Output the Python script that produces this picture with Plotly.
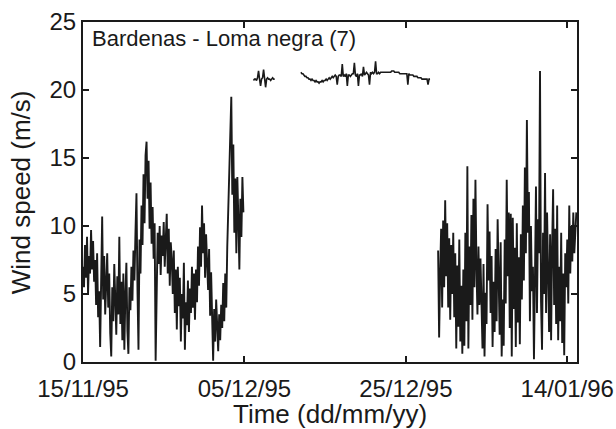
import pandas as pd
import plotly.graph_objects as go

# ---- data (3-hourly wind speed, m/s) ----
seg1_start = "1995-11-15 00:00"
seg1 = [
    7.0, 5.5, 8.6, 6.2, 9.2, 5.0, 7.8, 6.5,
    9.7, 6.8, 8.9, 5.9, 7.5, 4.2, 8.0, 3.3,
    5.2, 1.1, 6.0, 10.7, 4.6, 7.8, 3.5, 6.9,
    8.0, 4.0, 6.5, 2.1, 0.4, 5.5, 3.0, 7.2,
    4.8, 2.0, 6.3, 3.5, 9.2, 2.8, 5.9, 1.6,
    6.5, 0.9, 4.9, 7.3, 2.3, 0.6, 5.5, 3.8,
    7.0, 4.5, 8.2, 6.0, 9.5, 12.4, 5.3, 0.9,
    9.0, 6.5, 11.5, 8.6, 13.8, 10.2, 15.2, 16.2,
    12.0, 14.8, 9.8, 13.2, 8.7, 11.4, 7.6, 10.2,
    0.1, 5.8, 9.5, 7.2, 10.0, 6.4, 9.3, 7.8,
    10.3, 7.0, 9.1, 10.9, 6.5, 9.8, 5.6, 8.8,
    7.5, 5.0, 8.2, 3.6, 6.8, 2.4, 7.0, 4.1,
    6.2, 1.5, 5.0, 3.2, 7.3, 0.9, 4.4, 2.7,
    6.0, 2.2, 5.4, 3.6, 7.0, 4.0, 6.5, 3.1,
    6.8, 4.4, 8.5, 5.6, 9.9, 7.0, 11.5, 8.0,
    10.2, 6.2, 9.4, 7.5, 5.3, 8.3, 3.4, 6.6,
    2.8, 0.1, 3.9, 1.5, 4.6, 2.0, 0.8, 3.5,
    1.6, 4.2, 2.5, 5.8, 3.0, 6.5, 4.0, 8.5,
    11.0, 14.5, 17.2, 19.5, 12.3, 16.0, 9.5, 13.5,
    8.0, 13.6, 10.5, 6.8, 12.0, 9.2, 13.6, 11.0,
]

seg2_start = "1995-12-06 03:00"
seg2 = [20.7, 20.8, 20.8, 20.7, 20.9, 21.4, 20.8, 20.3, 20.8, 20.9, 21.5,
        20.7, 20.2, 20.8, 20.9, 20.8, 20.8, 20.7, 20.8, 20.9, 20.8, 20.8]

seg3_start = "1995-12-12 00:00"
seg3 = [
    21.3, 21.2, 21.2, 21.1, 21.0, 21.0, 20.9, 20.9,
    20.8, 20.8, 20.7, 20.8, 20.7, 20.7, 20.6, 20.7,
    20.6, 20.6, 20.5, 20.6, 20.6, 20.7, 20.6, 20.7,
    20.7, 20.8, 20.7, 20.8, 20.9, 20.8, 20.9, 21.0,
    20.9, 21.0, 21.1, 21.0, 20.4, 21.0, 21.1, 21.1,
    21.0, 21.9, 21.0, 21.1, 21.0, 21.2, 20.3, 21.1,
    21.1, 21.0, 21.1, 21.2, 21.2, 22.0, 21.1, 21.0,
    21.2, 20.3, 21.1, 21.1, 21.2, 21.0, 21.7, 21.1,
    21.2, 21.3, 21.2, 21.1, 20.4, 21.3, 21.2, 21.3,
    21.2, 21.3, 22.1, 21.2, 21.2, 21.3, 21.2, 21.3,
    21.3, 21.3, 21.3, 21.3, 21.3, 21.3, 21.3, 21.3,
    21.3, 21.3, 21.4, 21.4, 21.4, 21.3, 21.3, 21.3,
    21.3, 21.3, 21.2, 21.2, 21.2, 21.2, 21.2, 21.2,
    21.2, 21.2, 20.4, 21.2, 21.1, 21.1, 21.1, 21.1,
    21.0, 21.0, 21.0, 21.0, 20.9, 20.9, 20.9, 20.9,
    20.8, 20.8, 20.8, 20.8, 20.8, 20.8, 20.4, 20.8,
    20.8,
]

seg4_start = "1995-12-29 00:00"
seg4 = [
    8.2, 1.8, 6.5, 9.8, 4.0, 10.4, 5.5, 11.9,
    6.3, 10.2, 4.0, 9.1, 3.1, 8.6, 5.0, 9.5,
    3.3, 8.0, 1.0, 7.1, 2.6, 9.0, 1.5, 5.6,
    0.6, 6.8, 1.2, 9.5, 3.0, 14.4, 1.0, 8.5,
    4.2, 10.8, 3.1, 12.0, 5.5, 13.4, 7.0, 3.5,
    8.5, 4.2, 7.6, 3.6, 1.0, 7.2, 0.4, 5.1,
    2.8, 11.6, 6.0, 9.6, 3.6, 7.8, 1.1, 5.9,
    2.2, 8.3, 3.0, 10.5, 5.2, 2.0, 8.8, 0.4,
    4.6, 1.2, 9.0, 4.3, 13.4, 6.3, 11.0, 2.5,
    10.9, 0.4, 10.6, 3.9, 8.4, 1.1, 10.2, 2.9,
    7.7, 1.3, 9.4, 4.6, 11.5, 6.0, 14.3, 8.0,
    17.8, 9.5, 12.5, 3.0, 10.0, 5.2, 7.0, 0.2,
    6.2, 12.9, 3.6, 10.5, 8.0, 21.4, 4.5, 0.9,
    9.5, 5.0, 13.9, 3.6, 11.0, 6.5, 2.2, 9.4,
    1.6, 8.5, 12.7, 4.2, 9.8, 2.8, 11.5, 1.6,
    7.0, 3.0, 9.5, 1.4, 6.5, 0.5, 8.0, 5.5,
    9.0, 4.3, 11.5, 6.5, 10.0, 7.4, 11.0, 8.0,
    10.2, 11.0,
]

segments = [(seg1_start, seg1, 1.9), (seg2_start, seg2, 1.6),
            (seg3_start, seg3, 1.6), (seg4_start, seg4, 1.9)]

x_ticks = ["1995-11-15", "1995-12-05", "1995-12-25", "1996-01-14"]
x_tick_labels = ["15/11/95", "05/12/95", "25/12/95", "14/01/96"]
y_ticks = [0, 5, 10, 15, 20, 25]
x_range = ["1995-11-15 00:00", "1996-01-15 05:00"]

fig = go.Figure()
for start, vals, w in segments:
    xs = pd.date_range(start=start, periods=len(vals), freq="3h")
    fig.add_trace(go.Scatter(x=xs, y=vals, mode="lines",
                             line=dict(color="#1a1a1a", width=w),
                             showlegend=False, hoverinfo="skip"))

font_family = "Liberation Sans, Arial, sans-serif"
axis_common = dict(
    ticks="inside", ticklen=6, tickwidth=1.5, tickcolor="#1a1a1a",
    showline=True, linecolor="#1a1a1a", linewidth=2, mirror="ticks",
    showgrid=False, zeroline=False, automargin=False,
    tickfont=dict(size=24),
)
fig.update_layout(
    width=616, height=429,
    margin=dict(l=83, r=39, t=22, b=67),
    paper_bgcolor="white", plot_bgcolor="white",
    font=dict(family=font_family, color="#1a1a1a", size=24),
    xaxis=dict(range=x_range, tickvals=x_ticks, ticktext=x_tick_labels,
               ticklabelstandoff=4, **axis_common),
    yaxis=dict(range=[0, 25], tickvals=y_ticks, **axis_common),
    annotations=[
        dict(text="Bardenas - Loma negra (7)", xref="paper", yref="paper",
             x=0.015, y=0.995, xanchor="left", yanchor="top", showarrow=False,
             font=dict(size=22, family=font_family, color="#1a1a1a")),
        dict(text="Time (dd/mm/yy)", xref="paper", yref="paper",
             x=0.5, y=-0.153, xanchor="center", yanchor="middle", showarrow=False,
             font=dict(size=26, family=font_family, color="#1a1a1a")),
        dict(text="Wind speed (m/s)", xref="paper", yref="paper",
             x=-0.125, y=0.5, xanchor="center", yanchor="middle", showarrow=False,
             textangle=-90,
             font=dict(size=26, family=font_family, color="#1a1a1a")),
    ],
)

fig.write_html("out.html")
